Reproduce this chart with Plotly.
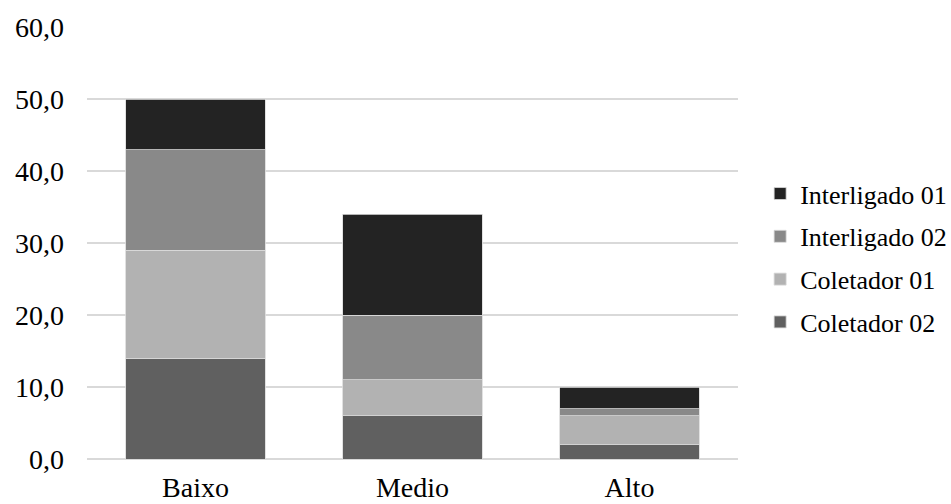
import plotly.graph_objects as go

categorias = ["Baixo", "Medio", "Alto"]
coletador_02 = [14, 6, 2]
coletador_01 = [15, 5, 4]
interligado_02 = [14, 9, 1]
interligado_01 = [7, 14, 3]

# (name, values, colour, legend position) -- stacked bottom to top
series = [
    ("Coletador 02", coletador_02, "#606060", 4),
    ("Coletador 01", coletador_01, "#b2b2b2", 3),
    ("Interligado 02", interligado_02, "#898989", 2),
    ("Interligado 01", interligado_01, "#232323", 1),
]

fig = go.Figure()
for nome, valores, cor, rank in series:
    fig.add_trace(go.Bar(
        x=categorias, y=valores, name=nome, legendgroup=nome, legendrank=rank,
        marker=dict(color=cor, line=dict(color="#d9d9d9", width=0.8)),
    ))

familia = "Liberation Serif"

fig.update_layout(
    barmode="stack",
    bargap=0.355,
    width=951, height=504,
    margin=dict(l=87, r=213, t=27, b=45, autoexpand=False),
    paper_bgcolor="white", plot_bgcolor="white",
    font=dict(family=familia, size=28, color="#000000"),
    legend=dict(
        x=1.034, y=0.465, xanchor="left", yanchor="middle",
        traceorder="grouped", font=dict(family=familia, size=26, color="#000000"),
        itemwidth=30, tracegroupgap=6,
    ),
    xaxis=dict(showline=False, ticks="", automargin=False,
               tickfont=dict(family=familia, size=28, color="#000000"), ticklabelstandoff=9),
    yaxis=dict(
        range=[0, 60.05], tickvals=[0, 10, 20, 30, 40, 50, 60], tickformat=".1f",
        showgrid=True, gridcolor="#d9d9d9", gridwidth=1.5,
        zeroline=True, zerolinecolor="#d9d9d9", zerolinewidth=1.5,
        ticks="", automargin=False, ticklabelstandoff=22,
        tickfont=dict(family=familia, size=28, color="#000000"),
    ),
    separators=",.",
)

fig.write_html("out.html")
